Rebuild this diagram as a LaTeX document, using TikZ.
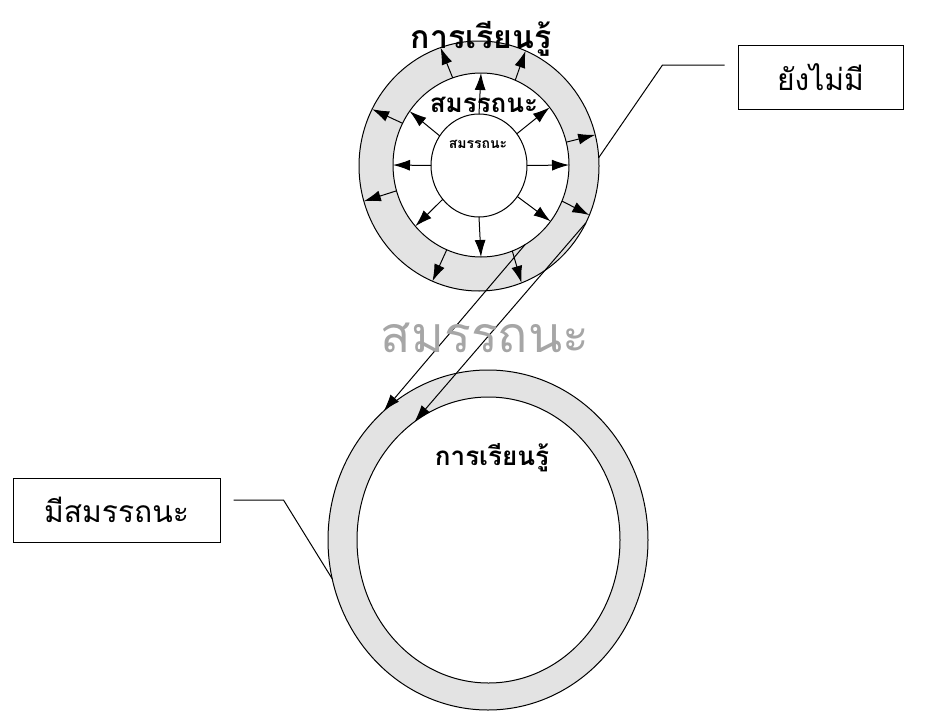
\documentclass[tikz,border=0pt]{standalone}
\usepackage{fontspec}
\newfontfamily\thai[Script=Thai]{Loma}
\usetikzlibrary{shapes.geometric,arrows.meta}
\begin{document}
\begin{tikzpicture}[x=1pt,y=-1pt,
  ring/.style={ellipse,draw=black,line width=1pt,inner sep=0pt,outer sep=0pt},
  ringfill/.style={fill=gray!22},
  arr/.style={line width=1pt,-{Latex[length=17pt,width=11pt]}},
  callout/.style={line width=1pt},
  lbl/.style={inner sep=0pt,anchor=base},
  tbox/.style={draw=black,line width=1pt,inner sep=0pt,minimum height=64pt,font=\thai\fontsize{30}{32}\selectfont}]
\useasboundingbox (0,0) rectangle (940,712);
% upper rings
\node[ring,ringfill,minimum width=240pt,minimum height=250pt] (tOut) at (479,166) {};
\node[ring,fill=white,minimum width=176pt,minimum height=184pt] (tMid) at (481,165) {};
\node[ring,fill=white,minimum width=96pt,minimum height=103pt] (tIn) at (479,165.5) {};
\foreach \a in {0,40,90,143,180,223,270,321}
  \draw[arr] (tIn.\a) -- (tMid.\a);
\foreach \a in {108,68,152,15,197,336,248,290}
  \draw[arr] (tMid.\a) -- (tOut.\a);
% lower rings
\node[ring,ringfill,minimum width=320pt,minimum height=340pt] (bOut) at (488,540) {};
\node[ring,fill=white,minimum width=263pt,minimum height=286pt] (bIn) at (488.5,540) {};
% long arrows
\draw[arr] (tMid.299) -- (bOut.129);
\draw[arr] (tOut.332) -- (bIn.122);
% boxes
\node[tbox,minimum width=165pt] (rbox) at (820.5,77) {ยังไม่มี};
\node[tbox,minimum width=207pt] (lbox) at (116.5,510) {มีสมรรถนะ};
\coordinate (rc1) at ([xshift=-13pt,yshift=12pt]rbox.west);
\coordinate (rc2) at ([xshift=-75pt,yshift=12pt]rbox.west);
\draw[callout] (rc1) -- (rc2) -- (tOut.4);
\coordinate (lc1) at ([xshift=13pt,yshift=10pt]lbox.east);
\coordinate (lc2) at ([xshift=63pt,yshift=10pt]lbox.east);
\draw[callout] (lc1) -- (lc2) -- (bOut.194);
% texts
\node[lbl,font=\thai\bfseries\fontsize{32}{32}\selectfont] (tTop) at (481,48) {การเรียนรู้};
\node[lbl,font=\thai\bfseries\fontsize{26}{26}\selectfont] (tMidTxt) at (484,112) {สมรรถนะ};
\node[lbl,font=\thai\bfseries\fontsize{14}{14}\selectfont] (tInTxt) at (478,148) {สมรรถนะ};
\node[lbl,font=\thai\fontsize{50}{50}\selectfont,text=gray!70] (bigTxt) at (485,352) {สมรรถนะ};
\node[lbl,font=\thai\bfseries\fontsize{26}{26}\selectfont] (bTxt) at (492,465) {การเรียนรู้};
\end{tikzpicture}
\end{document}
